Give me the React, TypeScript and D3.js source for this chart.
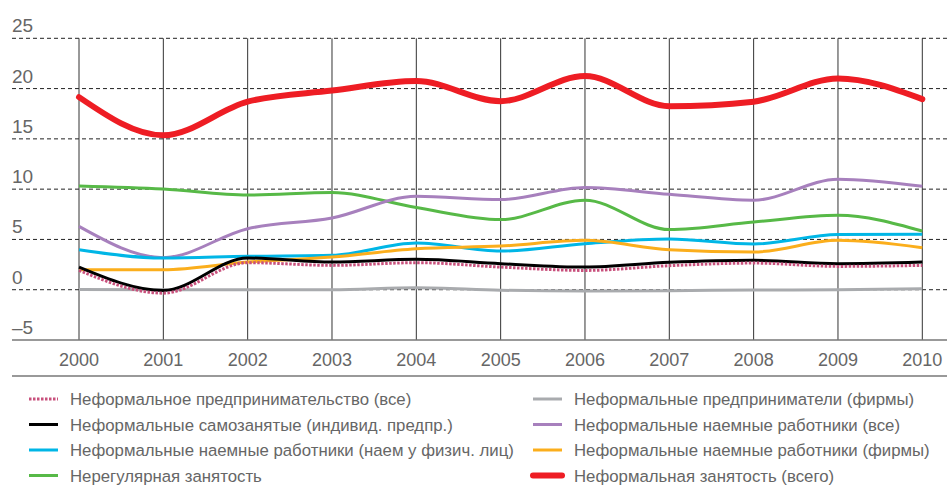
import React from "react";
import * as d3 from "d3";

const years = [2000, 2001, 2002, 2003, 2004, 2005, 2006, 2007, 2008, 2009, 2010];
const yTicks = [-5, 0, 5, 10, 15, 20, 25];

const entrepreneurshipAll = [1.92, -0.34, 2.69, 2.42, 2.69, 2.25, 1.92, 2.39, 2.65, 2.32, 2.42];
const selfEmployed = [2.25, -0.07, 3.15, 2.75, 3.02, 2.59, 2.25, 2.72, 2.92, 2.59, 2.75];
const hiredIndividuals = [3.98, 3.15, 3.32, 3.42, 4.64, 3.84, 4.58, 5.04, 4.54, 5.48, 5.51];
const irregular = [10.32, 10.02, 9.42, 9.66, 8.17, 6.97, 8.9, 5.98, 6.73, 7.4, 5.84];
const entrepreneursFirms = [0.03, 0.0, 0.0, 0.0, 0.2, -0.05, -0.13, -0.1, -0.03, 0.0, 0.1];
const hiredAll = [6.3, 3.19, 6.07, 7.13, 9.29, 8.96, 10.16, 9.49, 8.9, 10.99, 10.29];
const hiredFirms = [1.99, 1.99, 2.75, 3.25, 4.08, 4.34, 4.91, 3.98, 3.75, 4.91, 4.18];
const informalTotal = [19.15, 15.35, 18.7, 19.8, 20.75, 18.75, 21.25, 18.25, 18.7, 21.0, 18.95];

type S = { name: string; values: number[]; color: string; width: number; dash?: string };

const series: S[] = [
  { name: "Неформальное предпринимательство (все)", values: entrepreneurshipAll, color: "#c8507c", width: 3, dash: "2.5 1.5" },
  { name: "Неформальные самозанятые (индивид. предпр.)", values: selfEmployed, color: "#000000", width: 3 },
  { name: "Неформальные наемные работники (наем у физич. лиц)", values: hiredIndividuals, color: "#00b6e6", width: 3 },
  { name: "Нерегулярная занятость", values: irregular, color: "#57b947", width: 3 },
  { name: "Неформальные предприниматели (фирмы)", values: entrepreneursFirms, color: "#a9abae", width: 3 },
  { name: "Неформальные наемные работники (все)", values: hiredAll, color: "#a780bd", width: 3 },
  { name: "Неформальные наемные работники (фирмы)", values: hiredFirms, color: "#fbae1c", width: 3 },
  { name: "Неформальная занятость (всего)", values: informalTotal, color: "#ee1d24", width: 6 },
];

const drawOrder = [4, 3, 5, 2, 6, 1, 0, 7];

const W = 947;
const H = 488;
const FONT = "'Liberation Sans', Arial, sans-serif";

export default function App() {
  const x = d3.scalePoint<number>().domain(years).range([79, 922.3]);
  const y = d3.scaleLinear().domain([-5, 25]).range([340, 38.3]);
  const line = (vals: number[]) =>
    d3
      .line<number>()
      .x((_, i) => x(years[i]) as number)
      .y((d) => y(d))
      .curve(d3.curveMonotoneX)(vals) as string;

  return (
    <svg
      width={W}
      height={H}
      style={{ position: "absolute", left: 0, top: 0, display: "block", background: "#fff" }}
      fontFamily={FONT}
    >
      {yTicks
        .filter((t) => t > -5)
        .map((t) => (
          <line key={"g" + t} x1={12} x2={W} y1={y(t)} y2={y(t)} stroke="#222" strokeWidth={1} strokeDasharray="4 3" />
        ))}
      {years.map((yr) => (
        <line key={"v" + yr} x1={x(yr)} x2={x(yr)} y1={y(25)} y2={y(-5)} stroke="#333" strokeWidth={1} />
      ))}
      <line x1={12} x2={W} y1={y(-5)} y2={y(-5)} stroke="#777" strokeWidth={1.5} />
      <line x1={12} x2={W} y1={376} y2={376} stroke="#777" strokeWidth={1.5} />
      {yTicks.map((t) => (
        <text key={"yl" + t} x={12} y={y(t) - 6} fontSize={19} fill="#666">
          {t < 0 ? "–" + Math.abs(t) : String(t)}
        </text>
      ))}
      {years.map((yr) => (
        <text key={"xl" + yr} x={x(yr)} y={366} fontSize={18} fill="#666" textAnchor="middle">
          {yr}
        </text>
      ))}
      {drawOrder.map((i) => {
        const s = series[i];
        return (
          <path
            key={"s" + i}
            d={line(s.values)}
            fill="none"
            stroke={s.color}
            strokeWidth={s.width}
            strokeDasharray={s.dash}
            strokeLinecap={s.width > 4 ? "round" : "butt"}
            strokeLinejoin="round"
          />
        );
      })}
      {series.map((s, i) => {
        const col = i < 4 ? 0 : 1;
        const row = i % 4;
        const sx = col === 0 ? 29 : 533;
        const tx = col === 0 ? 70 : 574;
        const cy = 399 + row * 25.5;
        return (
          <g key={"lg" + i}>
            <line
              x1={sx}
              x2={sx + 29}
              y1={cy}
              y2={cy}
              stroke={s.color}
              strokeWidth={s.width}
              strokeDasharray={s.dash}
              strokeLinecap={s.width > 4 ? "round" : "butt"}
            />
            <text x={tx} y={cy + 6} fontSize={16.8} fill="#666">
              {s.name}
            </text>
          </g>
        );
      })}
    </svg>
  );
}
